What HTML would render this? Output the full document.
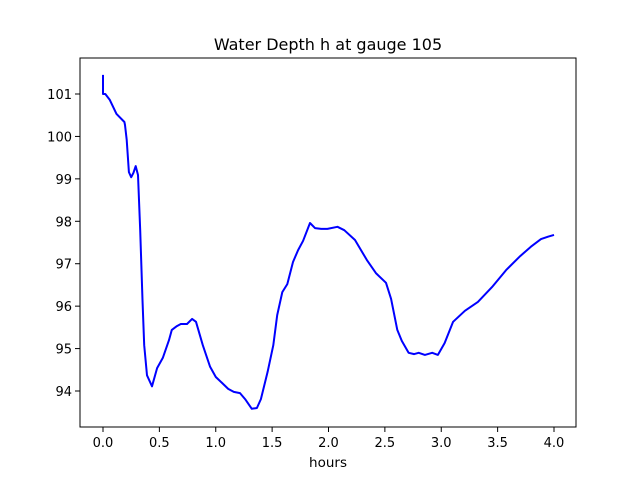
<!DOCTYPE html>
<html><head><meta charset="utf-8"><style>
body{margin:0;background:#fff;}
svg text{font-family:"DejaVu Sans","Liberation Sans",sans-serif;fill:#000;}
</style></head><body>
<svg id="chart" width="640" height="480" xmlns="http://www.w3.org/2000/svg">
<rect width="640" height="480" fill="#fff"/>
<text x="328" y="50" font-size="16" text-anchor="middle">Water Depth h at gauge 105</text>
<g id="ticks"></g>
<path id="line" fill="none" stroke="#0000ff" stroke-width="2" stroke-linejoin="round"/>
<rect x="80" y="58" width="496" height="369" fill="none" stroke="#000" stroke-width="1"/>
<text x="328" y="467" font-size="13.5" text-anchor="middle">hours</text>
</svg>
<script>
const hours=[0,0,0.02,0.06,0.12,0.19,0.195,0.21,0.23,0.25,0.27,0.29,0.31,0.33,0.35,0.365,0.39,0.435,0.48,0.53,0.585,0.61,0.655,0.69,0.745,0.79,0.825,0.885,0.95,1.0,1.055,1.11,1.16,1.215,1.26,1.32,1.365,1.4,1.46,1.51,1.545,1.59,1.635,1.685,1.73,1.775,1.836,1.88,1.935,1.99,2.08,2.14,2.235,2.34,2.42,2.51,2.555,2.61,2.65,2.71,2.76,2.80,2.855,2.92,2.97,3.03,3.105,3.21,3.325,3.45,3.575,3.70,3.795,3.885,3.95,4.0];
const depth=[101.45,101.0,101.0,100.86,100.53,100.34,100.27,99.92,99.16,99.04,99.14,99.30,99.09,97.79,96.14,95.08,94.37,94.11,94.54,94.78,95.20,95.44,95.53,95.58,95.58,95.70,95.63,95.08,94.57,94.33,94.19,94.05,93.98,93.95,93.81,93.58,93.60,93.81,94.45,95.08,95.79,96.33,96.52,97.04,97.32,97.54,97.96,97.84,97.82,97.82,97.87,97.79,97.56,97.09,96.78,96.55,96.17,95.44,95.18,94.90,94.87,94.90,94.85,94.90,94.85,95.13,95.63,95.89,96.10,96.45,96.85,97.18,97.40,97.58,97.64,97.68];
const xTicks=[0,0.5,1,1.5,2,2.5,3,3.5,4];
const xTickLabels=["0.0","0.5","1.0","1.5","2.0","2.5","3.0","3.5","4.0"];
const yTicks=[94,95,96,97,98,99,100,101];
const yTickLabels=["94","95","96","97","98","99","100","101"];
const xs=h=>103+h*112.75;
const ys=v=>94+(101-v)*42.43;
const NS="http://www.w3.org/2000/svg";
const g=document.getElementById('ticks');
function mk(tag,attrs){const e=document.createElementNS(NS,tag);for(const k in attrs)e.setAttribute(k,attrs[k]);g.appendChild(e);return e;}
xTicks.forEach((t,i)=>{
  const l=mk('line',{x1:xs(t),x2:xs(t),y1:427,y2:432,stroke:'#000'});
  
  
  const tx=mk('text',{x:xs(t),y:447,'font-size':13,'text-anchor':'middle'});
  tx.textContent=xTickLabels[i];
  
  
});
yTicks.forEach((t,i)=>{
  const l=mk('line',{x1:75,x2:80,y1:ys(t),y2:ys(t),stroke:'#000'});
  
  
  const tx=mk('text',{x:72,y:ys(t)+5,'font-size':13,'text-anchor':'end'});
  tx.textContent=yTickLabels[i];
  
  
});
document.getElementById('line').setAttribute('d',hours.map((h,i)=>(i?'L':'M')+xs(h).toFixed(1)+','+ys(depth[i]).toFixed(1)).join(''));
</script>
</body></html>
